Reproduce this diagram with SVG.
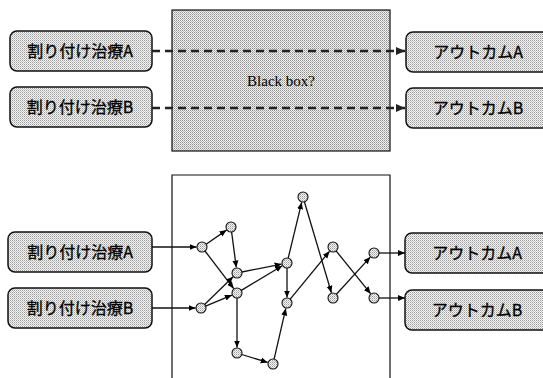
<svg xmlns="http://www.w3.org/2000/svg" width="543" height="378" viewBox="0 0 543 378">
<defs>
<pattern id="dots" width="2" height="2" patternUnits="userSpaceOnUse">
<rect width="2" height="2" fill="#f6f6f6"/>
<rect x="0" y="0" width="1" height="1" fill="#999"/>
<rect x="1" y="1" width="1" height="1" fill="#c4c4c4"/>
</pattern>
<pattern id="dots2" width="2" height="2" patternUnits="userSpaceOnUse">
<rect width="2" height="2" fill="#f2f2f2"/>
<rect x="0" y="0" width="1" height="1" fill="#8c8c8c"/>
<rect x="1" y="1" width="1" height="1" fill="#b8b8b8"/>
</pattern>
<marker id="ah" viewBox="0 0 7 7" refX="7" refY="3.5" markerWidth="7" markerHeight="7" markerUnits="userSpaceOnUse" orient="auto">
<path d="M0,0.5 L7,3.5 L0,6.5 z" fill="#000"/>
</marker>
<marker id="ahb" viewBox="0 0 9 9" refX="9" refY="4.5" markerWidth="9" markerHeight="9" markerUnits="userSpaceOnUse" orient="auto">
<path d="M0,0.5 L9,4.5 L0,8.5 z" fill="#222"/>
</marker>
</defs>
<style>
.box{fill:url(#dots);stroke:#111;stroke-width:1.5}
.frame{fill:none;stroke:#111;stroke-width:1.2}
.bb{fill:url(#dots2);stroke:#111;stroke-width:1.2}
.jp{font-family:"Noto Sans CJK JP","Noto Sans",sans-serif;font-size:16px;fill:#000;text-anchor:middle;stroke:#000;stroke-width:0.3}
.en{font-family:"Liberation Serif",serif;font-size:15px;fill:#000;text-anchor:middle}
.nd{fill:url(#dots);stroke:#111;stroke-width:1.1}
.e{fill:none;stroke:#111;stroke-width:1.3;marker-end:url(#ah)}
.d{fill:none;stroke:#222;stroke-width:2.5;stroke-dasharray:8 5;marker-end:url(#ahb)}
</style>

<g id="blackbox">
<rect class="bb" x="172" y="10" width="218" height="141"/>
<text class="en" x="281" y="86">Black box?</text>
</g>
<g id="top-in-A">
<rect class="box" x="10" y="31" width="142" height="40" rx="7"/>
<text class="jp" x="80" y="57">割り付け治療A</text>
</g>
<g id="top-in-B">
<rect class="box" x="10" y="87" width="142" height="40" rx="7"/>
<text class="jp" x="80" y="113">割り付け治療B</text>
</g>
<g id="top-out-A">
<rect class="box" x="406" y="32" width="143" height="40" rx="7"/>
<text class="jp" x="478" y="58">アウトカムA</text>
</g>
<g id="top-out-B">
<rect class="box" x="406" y="88" width="143" height="40" rx="7"/>
<text class="jp" x="478" y="114">アウトカムB</text>
</g>

<g id="network-frame">
<path class="frame" d="M172,380 V175 H390 V380"/>
</g>
<g id="bot-in-A">
<rect class="box" x="8" y="232" width="144" height="40" rx="7"/>
<text class="jp" x="80" y="258">割り付け治療A</text>
</g>
<g id="bot-in-B">
<rect class="box" x="8" y="288" width="144" height="40" rx="7"/>
<text class="jp" x="80" y="314">割り付け治療B</text>
</g>
<g id="bot-out-A">
<rect class="box" x="405" y="233" width="144" height="40" rx="7"/>
<text class="jp" x="477" y="259">アウトカムA</text>
</g>
<g id="bot-out-B">
<rect class="box" x="405" y="290" width="144" height="40" rx="7"/>
<text class="jp" x="477" y="316">アウトカムB</text>
</g>

<g id="connectors">
<line class="d" x1="152" y1="51" x2="405" y2="51"/>
<line class="d" x1="152" y1="108" x2="405" y2="108"/>
<line class="e" x1="152" y1="247" x2="196.5" y2="247"/>
<line class="e" x1="152" y1="308" x2="195.5" y2="308"/>
<line class="e" x1="206.1" y1="244.2" x2="226.5" y2="230.1"/>
<line class="e" x1="205" y1="251" x2="233.7" y2="288.6"/>
<line class="e" x1="231.6" y1="232" x2="236.3" y2="267.5"/>
<line class="e" x1="204.6" y1="304.5" x2="233.1" y2="276.8"/>
<line class="e" x1="205.6" y1="306.1" x2="231.9" y2="295.1"/>
<line class="e" x1="241.9" y1="272" x2="281.6" y2="264.1"/>
<line class="e" x1="241.3" y1="290.4" x2="282.3" y2="265.8"/>
<line class="e" x1="288.2" y1="258.1" x2="301.7" y2="202.3"/>
<line class="e" x1="304.4" y1="201.8" x2="331.4" y2="292.7"/>
<line class="e" x1="287" y1="268" x2="287" y2="297.5"/>
<line class="e" x1="237" y1="298" x2="237" y2="347.5"/>
<line class="e" x1="241.8" y1="354.5" x2="267.7" y2="362.4"/>
<line class="e" x1="274.1" y1="359.1" x2="285.8" y2="308.4"/>
<line class="e" x1="290.2" y1="299.1" x2="329.5" y2="251.3"/>
<line class="e" x1="336.1" y1="250.9" x2="370.6" y2="293.7"/>
<line class="e" x1="336.4" y1="294.3" x2="370.3" y2="257.1"/>
<line class="e" x1="379" y1="253" x2="405" y2="253"/>
<line class="e" x1="379" y1="298" x2="405" y2="298"/>
</g>

<g id="n1"><circle class="nd" cx="202" cy="247" r="5"/></g>
<g id="n2"><circle class="nd" cx="231" cy="227" r="5"/></g>
<g id="n3"><circle class="nd" cx="237" cy="273" r="5"/></g>
<g id="n4"><circle class="nd" cx="237" cy="293" r="5"/></g>
<g id="n5"><circle class="nd" cx="201" cy="308" r="5"/></g>
<g id="n6"><circle class="nd" cx="287" cy="263" r="5"/></g>
<g id="n7"><circle class="nd" cx="303" cy="197" r="5"/></g>
<g id="n8"><circle class="nd" cx="287" cy="303" r="5"/></g>
<g id="n9"><circle class="nd" cx="237" cy="353" r="5"/></g>
<g id="n10"><circle class="nd" cx="273" cy="364" r="5"/></g>
<g id="n11"><circle class="nd" cx="333" cy="247" r="5"/></g>
<g id="n12"><circle class="nd" cx="333" cy="298" r="5"/></g>
<g id="n13"><circle class="nd" cx="374" cy="253" r="5"/></g>
<g id="n14"><circle class="nd" cx="374" cy="298" r="5"/></g>
</svg>
